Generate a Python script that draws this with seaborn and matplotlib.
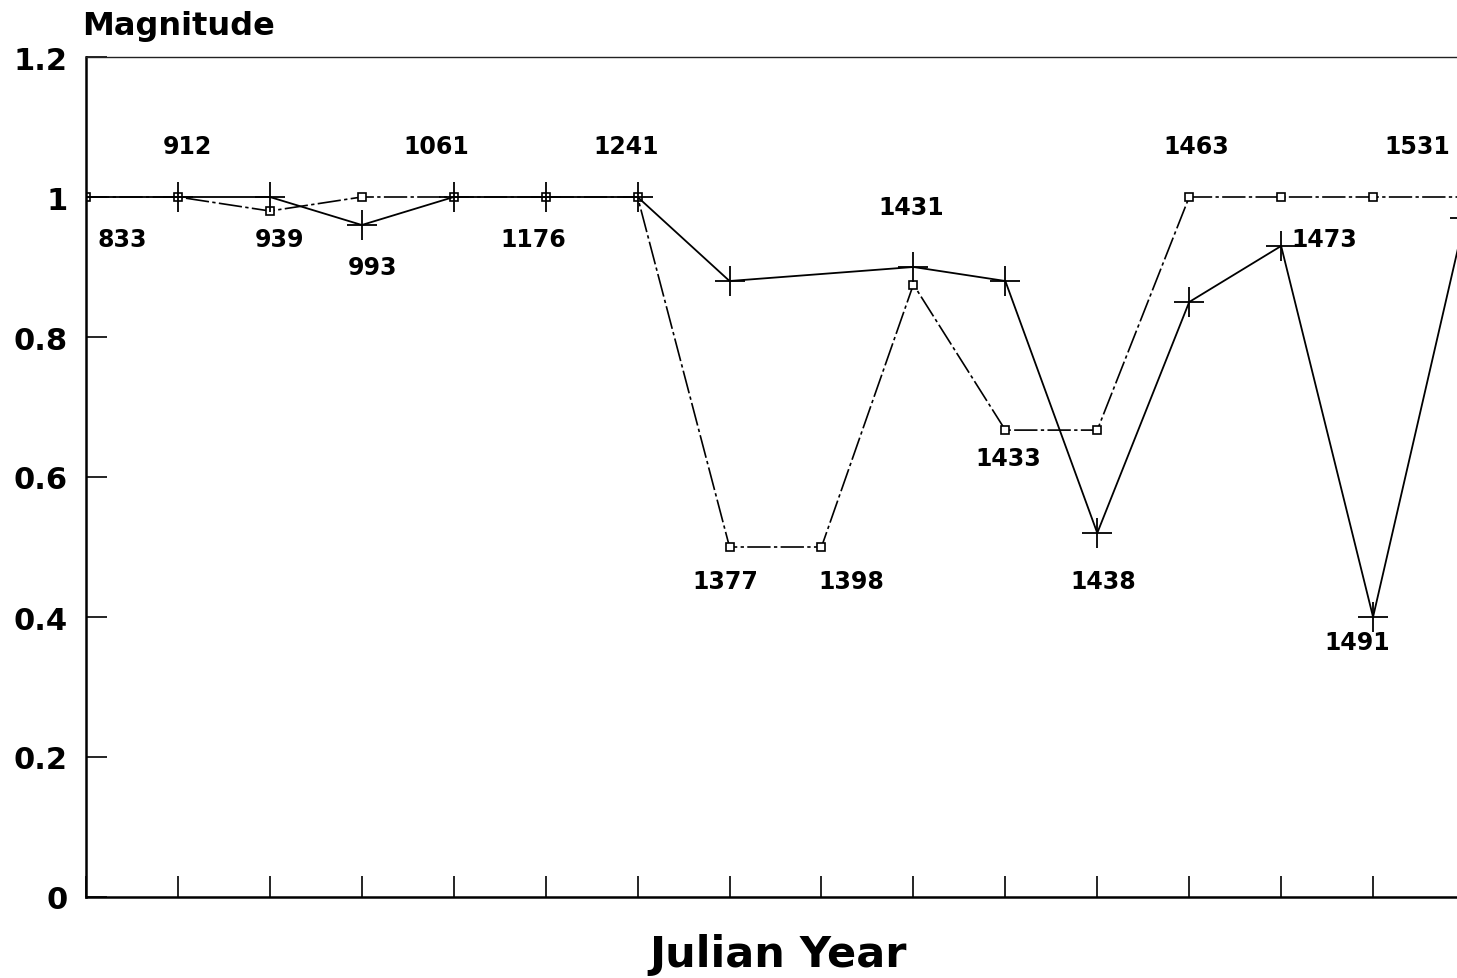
import numpy as np
import pandas as pd
import seaborn as sns
import matplotlib.pyplot as plt

# data
years = ['833', '912', '939', '993', '1061', '1176', '1241', '1377', '1398',
         '1431', '1433', '1438', '1463', '1473', '1491', '1531']
square_vals = [1.0, 1.0, 0.98, 1.0, 1.0, 1.0, 1.0, 0.5, 0.5,
               0.875, 0.667, 0.667, 1.0, 1.0, 1.0, 1.0]
plus_vals = [1.0, 1.0, 1.0, 0.96, 1.0, 1.0, 1.0, 0.88, np.nan,
             0.9, 0.88, 0.52, 0.85, 0.93, 0.40, 0.97]
ytick_vals = [0, 0.2, 0.4, 0.6, 0.8, 1.0, 1.2]
ytick_labels = ['0', '0.2', '0.4', '0.6', '0.8', '1', '1.2']

# where each year label sits (data coords)
label_x = [0.39, 1.10, 2.11, 3.12, 3.81, 4.86, 5.88, 6.95, 8.32,
           8.98, 10.03, 11.07, 12.08, 13.47, 13.83, 14.48]
label_y = [0.94, 1.073, 0.94, 0.90, 1.073, 0.94, 1.073, 0.451, 0.451,
           0.986, 0.627, 0.451, 1.073, 0.94, 0.364, 1.073]

df = pd.DataFrame({'idx': np.arange(len(years)), 'square': square_vals, 'plus': plus_vals})

sns.set_style("ticks")
plt.rcParams['font.family'] = ['DejaVu Sans']
plt.rcParams['text.color'] = 'black'
plt.rcParams['axes.edgecolor'] = 'black'
plt.rcParams['xtick.color'] = 'black'
plt.rcParams['ytick.color'] = 'black'

fig = plt.figure(figsize=(14.57, 9.79), dpi=100)
ax = fig.add_axes([86 / 1457, 81 / 979, (1465 - 86) / 1457, 840 / 979])

sq = df[['idx', 'square']].dropna()
sns.lineplot(x=sq['idx'], y=sq['square'], ax=ax, color='black', linewidth=1.2,
             marker='s', markersize=6, markerfacecolor='white', markeredgecolor='black',
             markeredgewidth=1.2, linestyle=(0, (14, 2, 2, 2)))
pl = df[['idx', 'plus']].dropna()
sns.lineplot(x=pl['idx'], y=pl['plus'], ax=ax, color='black', linewidth=1.3,
             marker='+', markersize=22, markeredgewidth=1.3, markeredgecolor='black')

for t, xx, yy in zip(years, label_x, label_y):
    ax.text(xx, yy, t, ha='center', va='center', fontsize=17, fontweight='bold', color='black')

ax.set_xlim(0, 15)
ax.set_ylim(0, 1.2)
ax.set_xticks(range(len(years)))
ax.set_xticklabels([])
ax.set_yticks(ytick_vals)
ax.set_yticklabels(ytick_labels, fontsize=22, fontweight='bold')
ax.tick_params(axis='both', direction='in', length=15, width=1.2, pad=13, colors='black')
ax.set_xlabel('')
ax.set_ylabel('')

for s in ['left', 'bottom']:
    ax.spines[s].set_linewidth(1.8)
    ax.spines[s].set_color('black')
ax.spines['top'].set_linewidth(1.0)
ax.spines['top'].set_color('#222222')
ax.spines['right'].set_visible(False)

fig.text(82 / 1457, 1 - 26 / 979, 'Magnitude', ha='left', va='center',
         fontsize=23, fontweight='bold')
fig.text(778 / 1457, 1 - 955 / 979, 'Julian Year', ha='center', va='center',
         fontsize=31, fontweight='bold')

fig.savefig('out.png', dpi=100)
